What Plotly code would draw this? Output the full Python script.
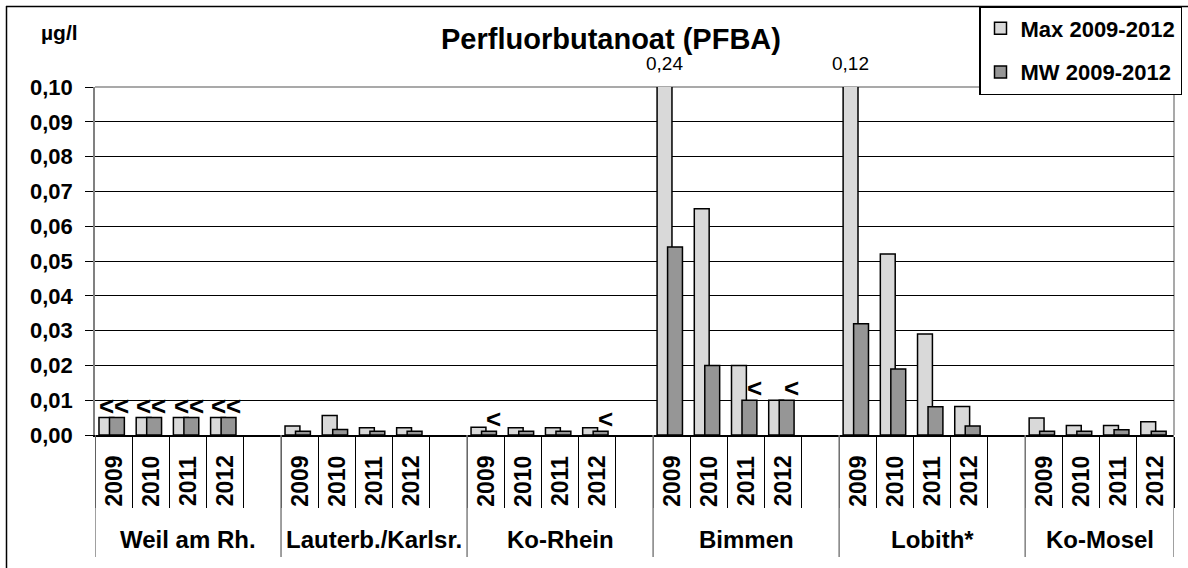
import plotly.graph_objects as go

# ---------------- data ----------------
groups = ["Weil am Rh.", "Lauterb./Karlsr.", "Ko-Rhein", "Bimmen", "Lobith*", "Ko-Mosel"]
years = ["2009", "2010", "2011", "2012"]

max_vals = [0.005, 0.005, 0.005, 0.005,
            0.0026, 0.0056, 0.0021, 0.0021,
            0.0022, 0.0021, 0.0021, 0.0021,
            0.24, 0.065, 0.020, 0.010,
            0.12, 0.052, 0.029, 0.0082,
            0.0049, 0.0027, 0.0027, 0.0038]
mw_vals = [0.005, 0.005, 0.005, 0.005,
           0.0011, 0.0016, 0.0011, 0.0011,
           0.0011, 0.0011, 0.0011, 0.0011,
           0.054, 0.020, 0.010, 0.010,
           0.032, 0.019, 0.0081, 0.0026,
           0.0011, 0.0011, 0.0015, 0.0011]
# "<" = below limit of quantification
max_lt = [1, 1, 1, 1, 0, 0, 0, 0, 0, 0, 0, 0, 0, 0, 0, 0, 0, 0, 0, 0, 0, 0, 0, 0]
mw_lt = [1, 1, 1, 1, 0, 0, 0, 0, 1, 0, 0, 1, 0, 0, 1, 1, 0, 0, 0, 0, 0, 0, 0, 0]

y_max = 0.10
title = "Perfluorbutanoat (PFBA)"
unit = "µg/l"
name_max = "Max 2009-2012"
name_mw = "MW 2009-2012"

# ---------------- layout constants ----------------
W, H = 1188, 568
ML, MR, MT, MB = 95, 14, 87, 133
PW, PH = W - ML - MR, H - MT - MB
FONT = "Liberation Sans, Arial, Helvetica, sans-serif"
C_MAX, C_MW = "#d9d9d9", "#969696"
BAR_W = 0.40
OFF_MAX, OFF_MW = -0.393, -0.111


def px_x(px):
    return (px - ML) / PW


def px_y(py):
    return (H - MB - py) / PH


# categories: 4 years + one empty slot per group (no trailing slot after last group)
cats, cat_year, max_y, mw_y, maxlt_y, mwlt_y = [], [], [], [], [], []
group_start = []
k = 0
for gi, g in enumerate(groups):
    group_start.append(len(cats))
    for y in years:
        cats.append(f"{g}|{y}")
        cat_year.append(y)
        max_y.append(max_vals[k])
        mw_y.append(mw_vals[k])
        maxlt_y.append(max_lt[k])
        mwlt_y.append(mw_lt[k])
        k += 1
    if gi < len(groups) - 1:
        cats.append(f"{g}|")
        cat_year.append("")
        max_y.append(None)
        mw_y.append(None)
        maxlt_y.append(0)
        mwlt_y.append(0)
group_end = group_start[1:] + [len(cats)]

fig = go.Figure()
fig.add_trace(go.Bar(
    x=cats, y=max_y, name=name_max, width=BAR_W, offset=OFF_MAX,
    marker=dict(color=C_MAX, line=dict(color="black", width=1.5)),
    legendgroup="a", hoverinfo="y"))
fig.add_trace(go.Bar(
    x=cats, y=mw_y, name=name_mw, width=BAR_W, offset=OFF_MW,
    marker=dict(color=C_MW, line=dict(color="black", width=1.5)),
    legendgroup="b", hoverinfo="y"))

ann = []
# year labels
for c, y in zip(cats, cat_year):
    if y:
        ann.append(dict(x=c, xref="x", y=px_y(481), yref="paper", text=y, textangle=-90,
                        showarrow=False, xanchor="center", yanchor="middle",
                        font=dict(family=FONT, size=23, color="black", weight="bold")))
# group labels
for g, s, e in zip(groups, group_start, group_end):
    ann.append(dict(x=(s - 0.5 + e - 0.5) / 2, xref="x", y=px_y(539), yref="paper", text=g,
                    showarrow=False, xanchor="center", yanchor="middle",
                    font=dict(family=FONT, size=24, color="black", weight="bold")))
# "<" markers
lt_font = dict(family=FONT, size=26, color="black", weight="bold")
for c, v, f in zip(cats, max_y, maxlt_y):
    if f:
        ann.append(dict(x=c, xref="x", y=v, yref="y", text="&lt;", showarrow=False,
                        xanchor="center", yanchor="bottom", xshift=-7, yshift=-5, font=lt_font))
for c, v, f in zip(cats, mw_y, mwlt_y):
    if f:
        ann.append(dict(x=c, xref="x", y=v, yref="y", text="&lt;", showarrow=False,
                        xanchor="center", yanchor="bottom", xshift=8, yshift=-5, font=lt_font))
# value labels of bars running off the axis
for c, v in zip(cats, max_y):
    if v is not None and v > y_max:
        ann.append(dict(x=c, xref="x", y=px_y(63), yref="paper",
                        text=f"{v:.2f}".replace(".", ","), showarrow=False,
                        xanchor="center", yanchor="middle", xshift=-7,
                        font=dict(family=FONT, size=19, color="black")))
# unit
ann.append(dict(x=px_x(59), xref="paper", y=px_y(32), yref="paper", text=unit,
                showarrow=False, xanchor="center", yanchor="middle",
                font=dict(family=FONT, size=21, color="black", weight="bold")))

shapes = []
# group dividers
for s in group_start + [len(cats)]:
    shapes.append(dict(type="line", xref="x", yref="paper", x0=s - 0.5, x1=s - 0.5,
                       y0=0, y1=px_y(557), line=dict(color="#808080", width=1.5), layer="above"))
# gray plot-area border top and right
shapes.append(dict(type="line", xref="paper", yref="paper", x0=0, x1=1, y0=1, y1=1,
                   line=dict(color="#8c8c8c", width=1.5), layer="between"))
shapes.append(dict(type="line", xref="paper", yref="paper", x0=1, x1=1, y0=0, y1=1,
                   line=dict(color="#8c8c8c", width=1.5), layer="between"))
# outer chart frame (top and left visible)
shapes.append(dict(type="line", xref="paper", yref="paper", x0=px_x(6), x1=px_x(W + 5),
                   y0=px_y(6.5), y1=px_y(6.5), line=dict(color="black", width=1.5)))
shapes.append(dict(type="line", xref="paper", yref="paper", x0=px_x(6.5), x1=px_x(6.5),
                   y0=px_y(6), y1=px_y(H + 5), line=dict(color="black", width=1.5)))

fig.update_layout(
    width=W, height=H,
    margin=dict(l=ML, r=MR, t=MT, b=MB, pad=0, autoexpand=False),
    paper_bgcolor="white", plot_bgcolor="white",
    separators=",.",
    barmode="overlay",
    font=dict(family=FONT, color="black"),
    title=dict(text=title, x=611 / W, xref="container", xanchor="center",
               y=1 - 39 / H, yref="container", yanchor="middle",
               font=dict(family=FONT, size=29, color="black", weight="bold")),
    showlegend=True,
    legend=dict(x=px_x(979), y=px_y(6), xanchor="left", yanchor="top",
                bgcolor="white", bordercolor="black", borderwidth=1.5,
                traceorder="grouped", tracegroupgap=12,
                font=dict(family=FONT, size=22, color="black", weight="bold")),
    annotations=ann, shapes=shapes,
)
fig.update_xaxes(type="category", categoryorder="array", categoryarray=cats,
                 range=[-0.5, len(cats) - 0.5],
                 showticklabels=False, tickson="boundaries", ticks="outside",
                 ticklen=71, tickwidth=1, tickcolor="black",
                 showgrid=False, showline=True, linecolor="black", linewidth=1.5,
                 zeroline=False)
fig.update_yaxes(range=[0, y_max], dtick=0.01, tick0=0, tickformat=".2f",
                 ticks="outside", ticklen=8, tickwidth=1, tickcolor="black",
                 ticklabelstandoff=8,
                 showgrid=True, gridcolor="black", gridwidth=1,
                 showline=True, linecolor="#808080", linewidth=1.5, zeroline=False,
                 tickfont=dict(family=FONT, size=22, color="black", weight="bold"))

fig.write_html("out.html", config={"displayModeBar": False},
               post_script="document.body.style.margin='0';document.body.style.overflow='hidden';")
